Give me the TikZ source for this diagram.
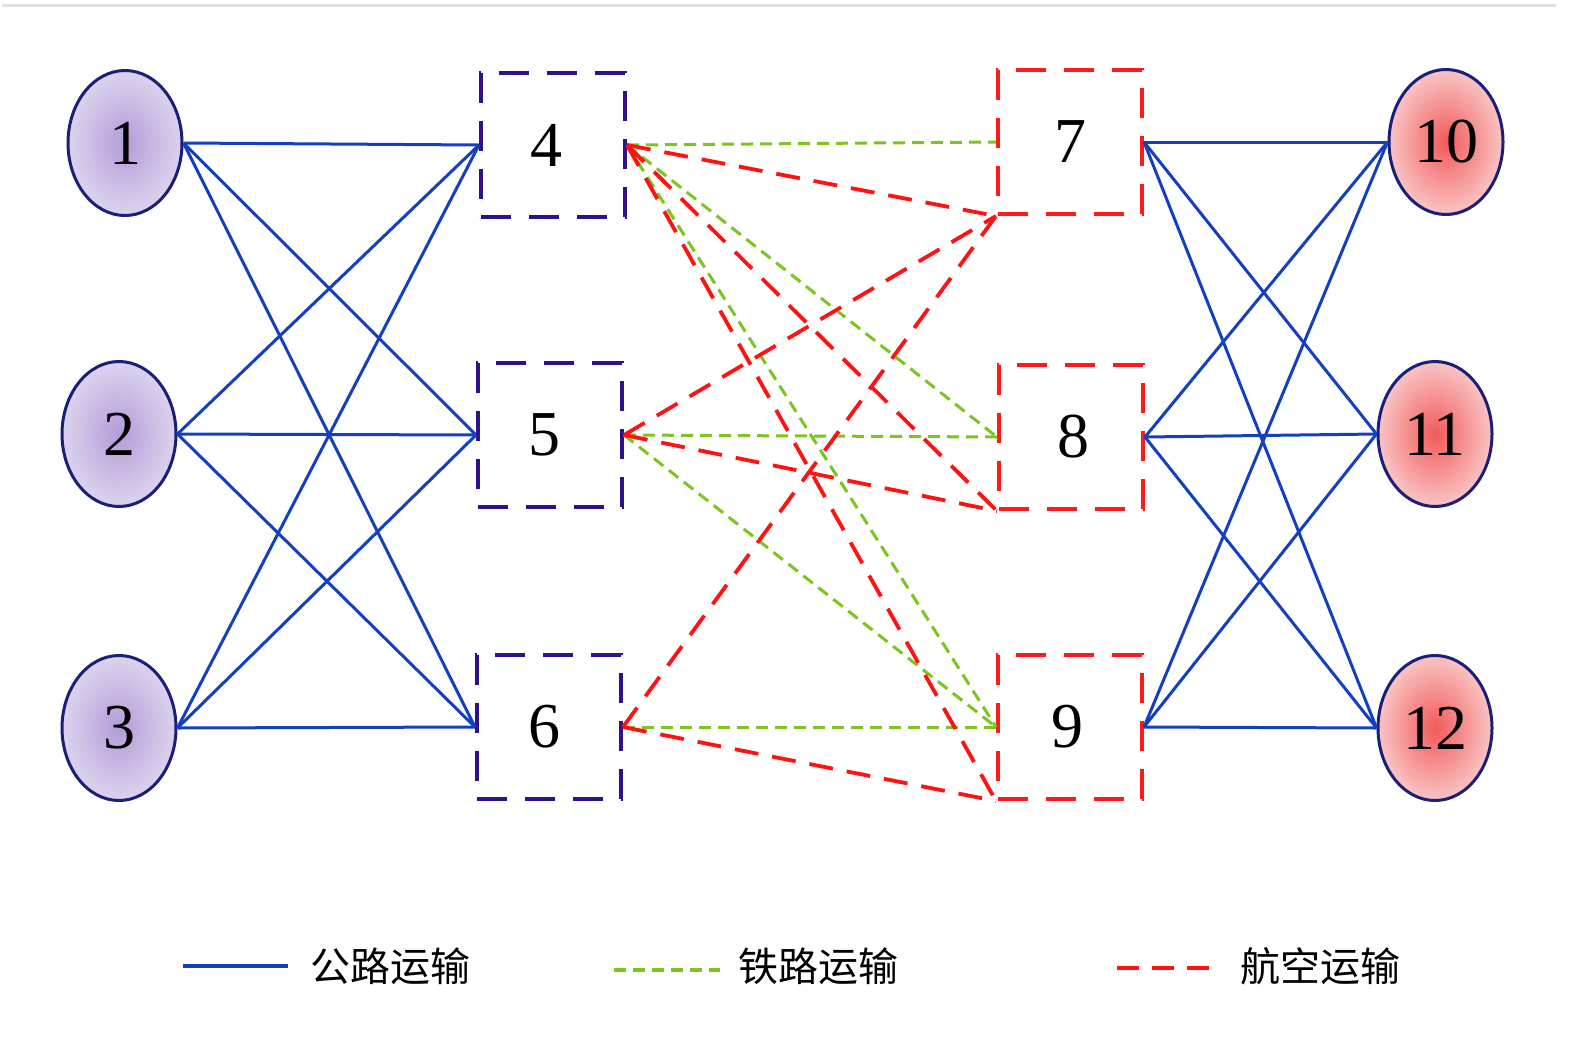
\documentclass[tikz,border=0pt]{standalone}
\usepackage{fontspec}
\setmainfont{Liberation Serif}
\newfontfamily\cjk{Noto Sans CJK SC}
\usetikzlibrary{shapes.geometric}
\definecolor{navyb}{HTML}{1A1F7A}
\definecolor{purpIn}{HTML}{B49CD8}
\definecolor{purpOut}{HTML}{DCD3EE}
\definecolor{redIn}{HTML}{F25A5A}
\definecolor{redOut}{HTML}{F9C4C4}
\definecolor{indigoBox}{HTML}{30108C}
\definecolor{redBox}{HTML}{FF1A1A}
\definecolor{roadC}{HTML}{1440C0}
\definecolor{railC}{HTML}{7CC520}
\definecolor{airC}{HTML}{FF1212}
\begin{document}
\begin{tikzpicture}[x=1pt,y=-1pt,
  ell/.style={ellipse, draw=navyb, line width=3pt, minimum width=114pt, minimum height=145pt, inner sep=0pt, font=\fontsize{64}{64}\selectfont},
  purp/.style={ell, inner color=purpIn, outer color=purpOut},
  pink/.style={ell, inner color=redIn, outer color=redOut},
  boxn/.style={rectangle, line width=4pt, dash pattern=on 30pt off 18pt, minimum width=144pt, minimum height=144pt, inner sep=0pt, font=\fontsize{64}{64}\selectfont},
  leftbox/.style={boxn, draw=indigoBox},
  rightbox/.style={boxn, draw=redBox},
  road/.style={draw=roadC, line width=3pt},
  rail/.style={draw=railC, line width=3pt, dash pattern=on 12pt off 7pt},
  air/.style={draw=airC, line width=3.8pt, dash pattern=on 24pt off 14pt},
  legtext/.style={anchor=west, font=\cjk\fontsize{40}{40}\selectfont, inner sep=0pt}
]
\useasboundingbox (0,0) rectangle (1575,1045);
\fill[white] (0,0) rectangle (1575,1045);
\draw[draw=black!12, line width=3pt] (2,5) -- (1556,5);

% left ellipses
\node[purp] (e1) at (125,143) {1};
\node[purp] (e2) at (119,434) {2};
\node[purp] (e3) at (119,728) {3};
% left boxes
\node[leftbox] (b4) at (553,145) {4\hspace*{14pt}};
\node[leftbox] (b5) at (550,435) {5\hspace*{12pt}};
\node[leftbox] (b6) at (549,727) {6\hspace*{10pt}};
% right boxes
\node[rightbox] (b7) at (1070,142) {7};
\node[rightbox] (b8) at (1071,437) {\hspace*{4pt}8};
\node[rightbox] (b9) at (1070,727) {9\hspace*{6pt}};
% right ellipses
\node[pink] (e10) at (1446,142) {10};
\node[pink] (e11) at (1435,434) {11};
\node[pink] (e12) at (1435,728) {12};

% road connections
\foreach \a in {e1,e2,e3}
  \foreach \b in {b4,b5,b6}
    \draw[road] (\a.east) -- (\b.west);
\foreach \a in {b7,b8,b9}
  \foreach \b in {e10,e11,e12}
    \draw[road] (\a.east) -- (\b.west);

% rail connections
\draw[rail] (b4.east) -- (b7.west);
\draw[rail] (b4.east) -- (b8.west);
\draw[rail] (b4.east) -- (b9.west);
\draw[rail] (b5.east) -- (b8.west);
\draw[rail] (b5.east) -- (b9.west);
\draw[rail] (b6.east) -- (b9.west);

% air connections
\draw[air] (b4.east) -- (b7.south west);
\draw[air] (b4.east) -- (b8.south west);
\draw[air] (b4.east) -- (b9.south west);
\draw[air] (b5.east) -- (b7.south west);
\draw[air] (b5.east) -- (b8.south west);
\draw[air] (b6.east) -- (b7.south west);
\draw[air] (b6.east) -- (b9.south west);

% legend
\coordinate (l1a) at (183,966);
\coordinate (l1b) at (288,966);
\draw[road, line width=4pt] (l1a) -- (l1b);
\node[legtext] (t1) at (310,966) {公路运输};
\coordinate (l2a) at (614,970);
\coordinate (l2b) at (720,970);
\draw[rail, line width=3.5pt] (l2a) -- (l2b);
\node[legtext] (t2) at (738,966) {铁路运输};
\coordinate (l3a) at (1117,968);
\coordinate (l3b) at (1210,968);
\draw[air, line width=4.5pt, dash pattern=on 22pt off 13pt] (l3a) -- (l3b);
\node[legtext] (t3) at (1240,966) {航空运输};
\end{tikzpicture}
\end{document}
